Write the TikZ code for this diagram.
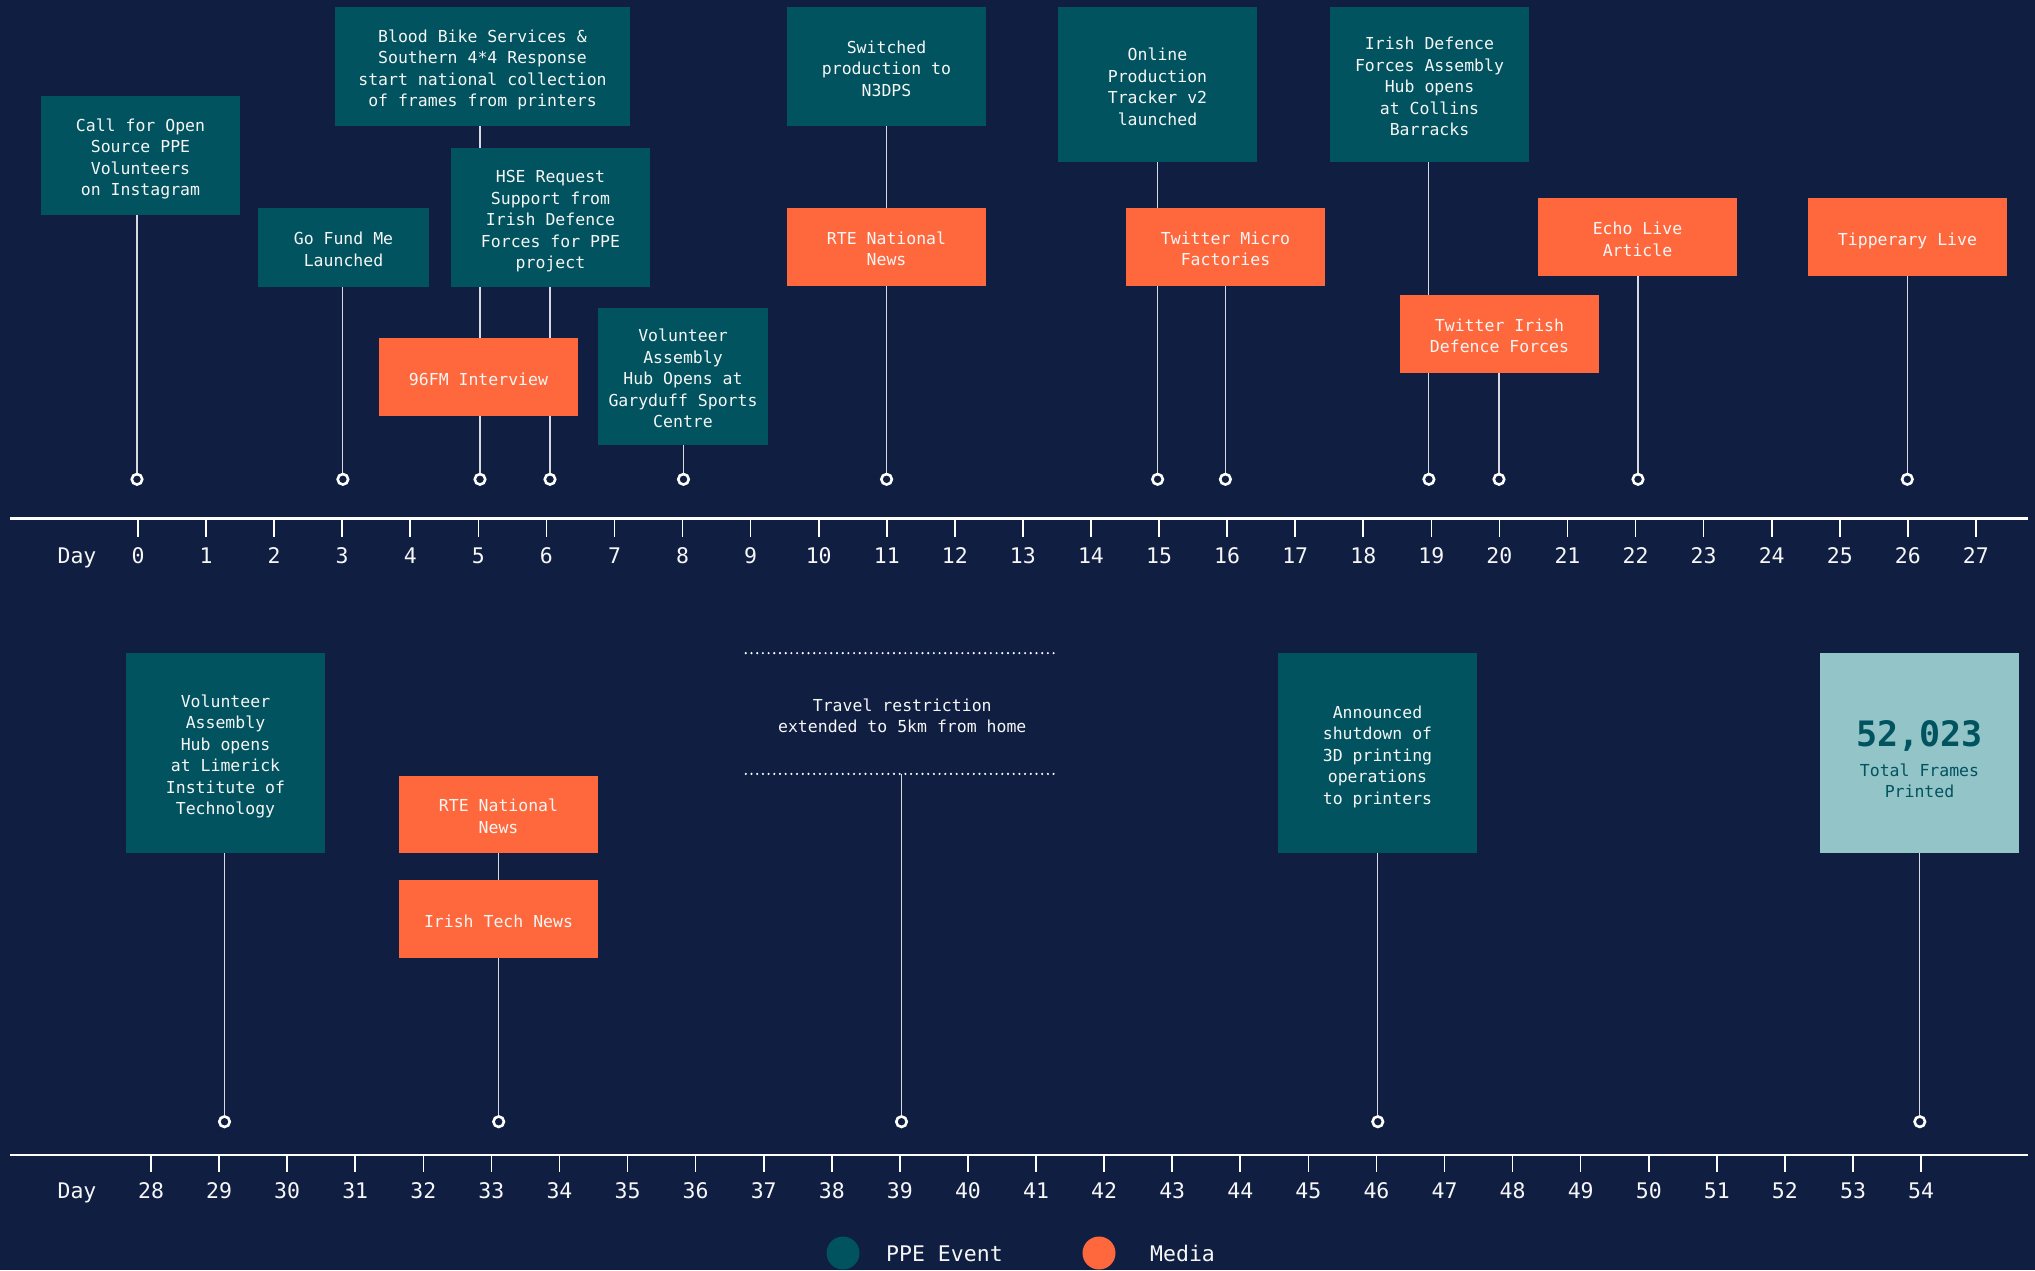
\documentclass[tikz,border=0pt]{standalone}
\usepackage{fontspec}
\setmainfont{DejaVu Sans Mono}
\definecolor{navybg}{RGB}{15,30,65}
\definecolor{ppecol}{RGB}{0,83,95}
\definecolor{medcol}{RGB}{255,104,61}
\definecolor{totcol}{RGB}{147,196,200}
\definecolor{stemcol}{RGB}{215,218,225}
\definecolor{txtcol}{RGB}{246,246,246}
\pgfdeclarelayer{bglayer}
\pgfdeclarelayer{linelayer}
\pgfsetlayers{bglayer,linelayer,main}
\newcommand\boxfont{\fontsize{16.5}{21.5}\selectfont}
\newcommand\axfont{\fontsize{21.5}{24}\selectfont}
\newcommand\evbox[7]{\node[#1, minimum width={(#5)-(#3)}, minimum height={(#6)-(#4)}] (#2) at ({((#3)+(#5))/2},{((#4)+(#6))/2}) {\raisebox{-4pt}[\height][\depth]{\begin{tabular}{@{}c@{}}#7\end{tabular}}};}
\begin{document}
\begin{tikzpicture}[x=1pt,y=-1pt,
  evt/.style={inner sep=0pt, text=txtcol, font=\boxfont},
  ppe/.style={evt, fill=ppecol},
  med/.style={evt, fill=medcol},
  tot/.style={evt, fill=totcol, text=ppecol},
  plain/.style={evt},
  stem/.style={draw=stemcol, line width=1.1pt},
  dot/.style={circle, draw=white, line width=2.6pt, fill=navybg, minimum size=10.5pt, inner sep=0pt},
  axisline/.style={draw=white, line width=2.4pt},
  tickmark/.style={draw=white, line width=1.6pt},
  axlab/.style={font=\axfont, text=txtcol, anchor=base, inner sep=0pt},
  dotline/.style={draw=white, line width=2.4pt, line cap=round, dash pattern=on 0pt off 5.7pt}
]
\useasboundingbox (0,0) rectangle (2035,1270);
\begin{pgfonlayer}{bglayer}
  \fill[navybg] (0,0) rectangle (2035,1270);
\end{pgfonlayer}

% ---------- top row boxes ----------
\evbox{ppe}{b0}{41}{96}{240}{214.7}{Call for Open\\Source PPE\\Volunteers\\on Instagram}
\evbox{ppe}{b3}{258}{208}{429}{286.7}{Go Fund Me\\Launched}
\evbox{ppe}{b5a}{335}{7}{630}{125.7}{Blood Bike Services \&\\Southern 4*4 Response\\start national collection\\of frames from printers}
\evbox{ppe}{b6}{451}{148}{650}{286.7}{HSE Request\\Support from\\Irish Defence\\Forces for PPE\\project}
\evbox{med}{b5b}{379}{338}{578}{415.7}{96FM Interview}
\evbox{ppe}{b8}{598}{308}{768}{444.7}{Volunteer\\Assembly\\Hub Opens at\\Garyduff Sports\\Centre}
\evbox{ppe}{b11a}{787}{7}{986}{125.7}{Switched\\production to\\N3DPS}
\evbox{med}{b11b}{787}{208}{986}{285.7}{RTE National\\News}
\evbox{ppe}{b15}{1058}{7}{1257}{162}{Online\\Production\\Tracker v2\\launched}
\evbox{med}{b16}{1126}{208}{1325}{285.7}{Twitter Micro\\Factories}
\evbox{ppe}{b19}{1330}{7}{1529}{162}{Irish Defence\\Forces Assembly\\Hub opens\\at Collins\\Barracks}
\evbox{med}{b20}{1400}{295}{1599}{372.7}{Twitter Irish\\Defence Forces}
\evbox{med}{b22}{1538}{198}{1737}{276}{Echo Live\\Article}
\evbox{med}{b26}{1808}{198}{2007}{276}{Tipperary Live}

% ---------- bottom row boxes ----------
\evbox{ppe}{b29}{126}{653}{325}{852.7}{Volunteer\\Assembly\\Hub opens\\at Limerick\\Institute of\\Technology}
\evbox{med}{b33a}{399}{776}{598}{852.7}{RTE National\\News}
\evbox{med}{b33b}{399}{880}{598}{957.8}{Irish Tech News}
\evbox{plain}{b39}{746}{653.3}{1058.5}{773.7}{Travel restriction\\extended to 5km from home}
\evbox{ppe}{b46}{1278}{653}{1477}{852.7}{Announced\\shutdown of\\3D printing\\operations\\to printers}
\evbox{tot}{b54}{1820}{653}{2019}{852.7}{{\fontsize{35}{40}\selectfont\bfseries 52,023\rule{0pt}{37.3pt}}\\[8pt]Total Frames\\Printed}

\draw[dotline] (b39.north west) -- (b39.north east);
\draw[dotline] (b39.south west) -- (b39.south east);

% ---------- event markers ----------
\foreach \n/\x in {0/137,3/342.9,5/480,6/550,8/683.5,11/886.6,15/1157.6,16/1225.4,19/1428.9,20/1499,22/1638,26/1907.3}
  \node[dot] (c\n) at (\x,479.3) {};
\foreach \n/\x in {29/224.5,33/498.7,39/901.5,46/1377.8,54/1919.8}
  \node[dot] (c\n) at (\x,1121.7) {};

\begin{pgfonlayer}{linelayer}
  \foreach \b/\c in {b0/c0,b3/c3,b5a/c5,b5b/c5,b6/c6,b8/c8,b11a/c11,b11b/c11,b15/c15,b16/c16,b19/c19,b20/c20,b22/c22,b26/c26,b29/c29,b33a/c33,b33b/c33,b39/c39,b46/c46,b54/c54}
    \draw[stem] (\b.south -| \c) -- (\c.north);
\end{pgfonlayer}

% ---------- axes ----------
\coordinate (ta1) at (10,518.3);
\coordinate (ta2) at (2028,518.3);
\draw[axisline] (ta1) -- (ta2);
\node[axlab] (tday) at (77,563.3) {Day};
\foreach \d in {0,...,27} {
  \draw[tickmark] ({138+68.07*\d},518.3) -- ++(0,18.7);
  \node[axlab] (tl\d) at ({138+68.07*\d},563.3) {\d};
}
\coordinate (ba1) at (10,1155);
\coordinate (ba2) at (2028,1155);
\draw[axisline] (ba1) -- (ba2);
\node[axlab] (bday) at (77,1198.3) {Day};
\foreach \d in {28,...,54} {
  \draw[tickmark] ({151+68.08*(\d-28)},1155) -- ++(0,16.7);
  \node[axlab] (bl\d) at ({151+68.08*(\d-28)},1198.3) {\d};
}

% ---------- legend ----------
\node[circle, fill=ppecol, minimum size=33pt, inner sep=0pt] (lg1) at (843,1253) {};
\node[axlab, anchor=base west] (lg1t) at (886,1261.7) {PPE Event};
\node[circle, fill=medcol, minimum size=33pt, inner sep=0pt] (lg2) at (1099,1253) {};
\node[axlab, anchor=base west] (lg2t) at (1150,1261.7) {Media};
\end{tikzpicture}
\end{document}
